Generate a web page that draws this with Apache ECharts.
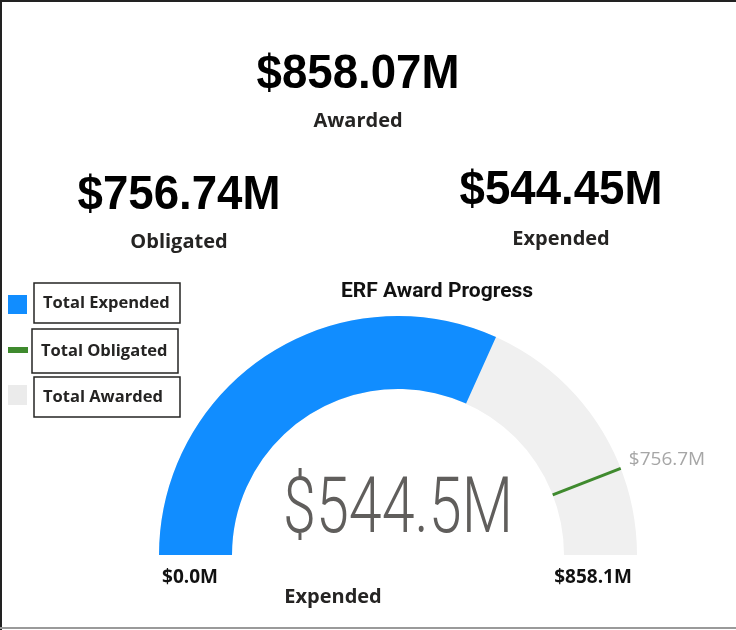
<!doctype html>
<html>
<head>
<meta charset="utf-8">
<title>ERF Award Progress</title>
<script src="https://cdn.jsdelivr.net/npm/echarts@6/dist/echarts.min.js"></script>
<style>
  html, body { margin: 0; padding: 0; background: #fff; }
  #main { width: 736px; height: 630px; }
</style>
</head>
<body>
<div id="main"></div>
<script>
  // card values, in $M
  var kpiNames = ['Awarded', 'Obligated', 'Expended'];
  var kpiValues = [858.07, 756.74, 544.45];
  var kpiPos = [[358, 75, 121], [179, 196, 242], [561, 191, 239]];

  // gauge
  var legendNames = ['Total Expended', 'Total Obligated', 'Total Awarded'];
  var gaugeMin = 0;
  var gaugeMax = kpiValues[0];
  var expended = kpiValues[2];
  var obligated = kpiValues[1];

  var blue = '#118DFF', green = '#3F8A2E', grey = '#F0F0F0';
  var cx = 398, cy = 555, R = 239, W = 73;

  function m1(v) { return '$' + v.toFixed(1) + 'M'; }
  function m2(v) { return '$' + v.toFixed(2) + 'M'; }

  var chart = echarts.init(document.getElementById('main'));

  var graphics = [
    { type: 'line', shape: { x1: 0, y1: 1, x2: 736, y2: 1 }, style: { stroke: '#222', lineWidth: 2 } },
    { type: 'line', shape: { x1: 1, y1: 0, x2: 1, y2: 630 }, style: { stroke: '#222', lineWidth: 2 } },
    { type: 'line', shape: { x1: 0, y1: 628, x2: 736, y2: 628 }, style: { stroke: '#9a9a9a', lineWidth: 2 } }
  ];

  // KPI cards
  kpiNames.forEach(function (name, i) {
    var p = kpiPos[i];
    graphics.push({
      type: 'text', x: p[0], y: p[1], scaleX: 0.95,
      style: { text: m2(kpiValues[i]), font: 'bold 48px "Liberation Sans"', fill: '#000',
               textAlign: 'center', textVerticalAlign: 'middle' }
    });
    graphics.push({
      type: 'text', x: p[0], y: p[2],
      style: { text: name, font: 'bold 20px "Open Sans"', fill: '#252423',
               textAlign: 'center', textVerticalAlign: 'middle' }
    });
  });

  // legend
  var legendIcons = [
    { x: 8, y: 295, width: 19, height: 19, fill: blue },
    { x: 8, y: 347, width: 20, height: 6, fill: green },
    { x: 8, y: 385, width: 19, height: 20, fill: '#EBEBEB' }
  ];
  var legendBoxes = [[34, 283, 146, 40], [32, 329, 146, 44], [34, 377, 146, 40]];
  legendNames.forEach(function (name, i) {
    var ic = legendIcons[i], b = legendBoxes[i];
    graphics.push({ type: 'rect', shape: { x: ic.x, y: ic.y, width: ic.width, height: ic.height }, style: { fill: ic.fill } });
    graphics.push({ type: 'rect', shape: { x: b[0], y: b[1], width: b[2], height: b[3] },
                    style: { fill: null, stroke: '#252423', lineWidth: 1.5 } });
    graphics.push({
      type: 'text', x: b[0] + 9, y: b[1] + b[3] / 2,
      style: { text: name, font: 'bold 16.5px "Open Sans"', fill: '#252423', textVerticalAlign: 'middle' }
    });
  });

  // gauge title, min / max / value
  graphics.push({ type: 'text', x: 437, y: 292,
    style: { text: 'ERF Award Progress', font: 'bold 21px Roboto', fill: '#111', textAlign: 'center', textVerticalAlign: 'middle' } });
  graphics.push({ type: 'text', x: 190, y: 578,
    style: { text: m1(gaugeMin), font: 'bold 19px "Open Sans"', fill: '#111', textAlign: 'center', textVerticalAlign: 'middle' } });
  graphics.push({ type: 'text', x: 593, y: 578,
    style: { text: m1(gaugeMax), font: 'bold 19px "Open Sans"', fill: '#111', textAlign: 'center', textVerticalAlign: 'middle' } });
  graphics.push({ type: 'text', x: 398, y: 513, scaleX: 0.77,
    style: { text: m1(expended), font: '300 77px Roboto', fill: '#605E5C', textAlign: 'center', textVerticalAlign: 'middle' } });

  var option = {
    animation: false,
    graphic: graphics,
    series: [
      {
        type: 'gauge', center: [cx, cy], radius: R,
        startAngle: 180, endAngle: 0, min: gaugeMin, max: gaugeMax,
        progress: { show: true, width: W, itemStyle: { color: blue } },
        axisLine: { lineStyle: { width: W, color: [[1, grey]] } },
        pointer: { show: false }, anchor: { show: false },
        axisTick: { show: false }, splitLine: { show: false }, axisLabel: { show: false },
        title: { offsetCenter: [-65, 42], fontSize: 20, fontWeight: 'bold', fontFamily: 'Open Sans', color: '#252423' },
        detail: { show: false },
        data: [{ value: expended, name: 'Expended' }]
      },
      {
        type: 'gauge', center: [cx, cy], radius: R,
        startAngle: 180, endAngle: 0, min: gaugeMin, max: gaugeMax,
        axisLine: { show: false },
        axisTick: { show: false }, splitLine: { show: false }, axisLabel: { show: false },
        pointer: { show: true, icon: 'rect', width: 3, length: W, offsetCenter: [0, -(R - W)],
                   itemStyle: { color: green } },
        anchor: { show: false },
        title: { show: false },
        detail: { offsetCenter: [269, -95], formatter: m1, fontSize: 19, fontWeight: 'normal',
                  fontFamily: 'Open Sans', color: '#A6A6A6' },
        data: [{ value: obligated, name: 'Total Obligated' }]
      }
    ]
  };

  chart.setOption(option);
</script>
</body>
</html>
